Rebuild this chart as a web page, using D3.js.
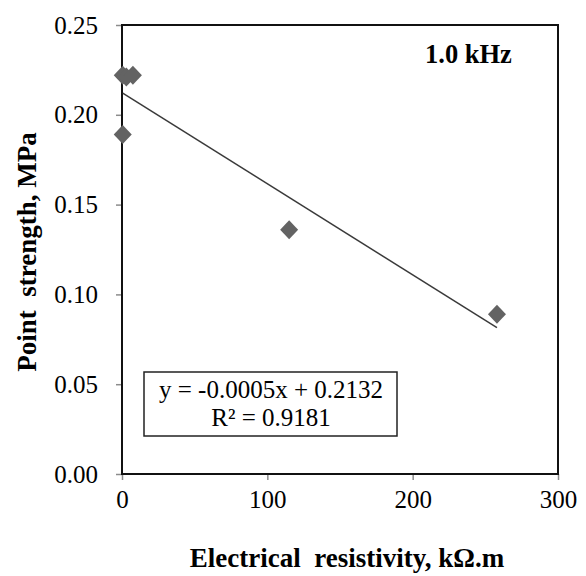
<!DOCTYPE html>
<html>
<head>
<meta charset="utf-8">
<script src="https://cdn.jsdelivr.net/npm/d3@7"></script>
<style>
  body { margin: 0; background: #fff; }
  text { font-family: "Liberation Serif", "Times New Roman", serif; }
</style>
</head>
<body>
<div id="chart"></div>
<script>
const width = 586;
const height = 576;

// data
const resistivity = [0.5, 3, 7.5, 0.5, 115, 258];
const strength = [0.222, 0.221, 0.222, 0.189, 0.136, 0.089];
const xTicks = [0, 100, 200, 300];
const yTicks = [0, 0.05, 0.10, 0.15, 0.20, 0.25];
const equationLines = ["y = -0.0005x + 0.2132", "R² = 0.9181"];
const panelLabel = "1.0 kHz";

const plot = {left: 122, right: 558, top: 25, bottom: 474};

const x = d3.scaleLinear().domain([0, 300]).range([plot.left, plot.right]);
const y = d3.scaleLinear().domain([0, 0.25]).range([plot.bottom, plot.top]);

const svg = d3.select("#chart")
    .append("svg")
        .attr("width", width)
        .attr("height", height);

// axes (ticks outside, grey)
const xAxis = svg.append("g")
    .attr("transform", "translate(0," + plot.bottom + ")")
    .call(d3.axisBottom(x).tickValues(xTicks).tickSize(6).tickPadding(10).tickFormat(d3.format("d")));
const yAxis = svg.append("g")
    .attr("transform", "translate(" + plot.left + ",0)")
    .call(d3.axisLeft(y).tickValues(yTicks).tickSize(6).tickPadding(18).tickFormat(d3.format(".2f")));

[xAxis, yAxis].forEach(a => {
    a.attr("font-family", null);
    a.select(".domain").remove();
    a.selectAll(".tick line").attr("stroke", "#8c8c8c").attr("stroke-width", 1.5);
    a.selectAll(".tick text")
        .attr("font-size", 25)
        .attr("fill", "#000");
});

// plot frame
svg.append("rect")
    .attr("x", plot.left)
    .attr("y", plot.top)
    .attr("width", plot.right - plot.left)
    .attr("height", plot.bottom - plot.top)
    .attr("fill", "none")
    .attr("stroke", "#111")
    .attr("stroke-width", 2);

// linear trendline (least squares, like the spreadsheet did)
const n = resistivity.length;
const mx = d3.mean(resistivity), my = d3.mean(strength);
let sxy = 0, sxx = 0;
for (let i = 0; i < n; i++) {
    sxy += (resistivity[i] - mx) * (strength[i] - my);
    sxx += (resistivity[i] - mx) ** 2;
}
const slope = sxy / sxx;
const intercept = my - slope * mx;
const [x0, x1] = d3.extent(resistivity);

svg.append("line")
    .attr("x1", x(x0)).attr("y1", y(intercept + slope * x0))
    .attr("x2", x(x1)).attr("y2", y(intercept + slope * x1))
    .attr("stroke", "#3a3a3a")
    .attr("stroke-width", 1.5);

// diamond markers
const pts = resistivity.map((v, i) => ({x: v, y: strength[i]}));
svg.append("g")
    .selectAll("path")
    .data(pts)
    .enter()
    .append("path")
    .attr("d", "M0,-9.5L9,0L0,9.5L-9,0Z")
    .attr("transform", d => "translate(" + x(d.x) + "," + y(d.y) + ")")
    .attr("fill", "#636363");

// equation box
svg.append("rect")
    .attr("x", 144).attr("y", 372)
    .attr("width", 253).attr("height", 64)
    .attr("fill", "#fff")
    .attr("stroke", "#222")
    .attr("stroke-width", 1.5);

svg.append("g")
    .selectAll("text")
    .data(equationLines)
    .enter()
    .append("text")
    .attr("x", 271)
    .attr("y", (d, i) => 398 + i * 28)
    .attr("text-anchor", "middle")
    .attr("font-size", 25)
    .text(d => d);

svg.append("text")
    .attr("x", 425).attr("y", 63)
    .attr("font-size", 26.5)
    .attr("font-weight", "bold")
    .text(panelLabel);

// axis titles
svg.append("text")
    .attr("x", 347).attr("y", 567)
    .attr("text-anchor", "middle")
    .attr("font-size", 27)
    .attr("font-weight", "bold")
    .style("white-space", "pre")
    .text("Electrical  resistivity, kΩ.m");

svg.append("text")
    .attr("transform", "translate(36,252) rotate(-90)")
    .attr("text-anchor", "middle")
    .attr("font-size", 27)
    .attr("font-weight", "bold")
    .style("white-space", "pre")
    .text("Point  strength, MPa");
</script>
</body>
</html>
